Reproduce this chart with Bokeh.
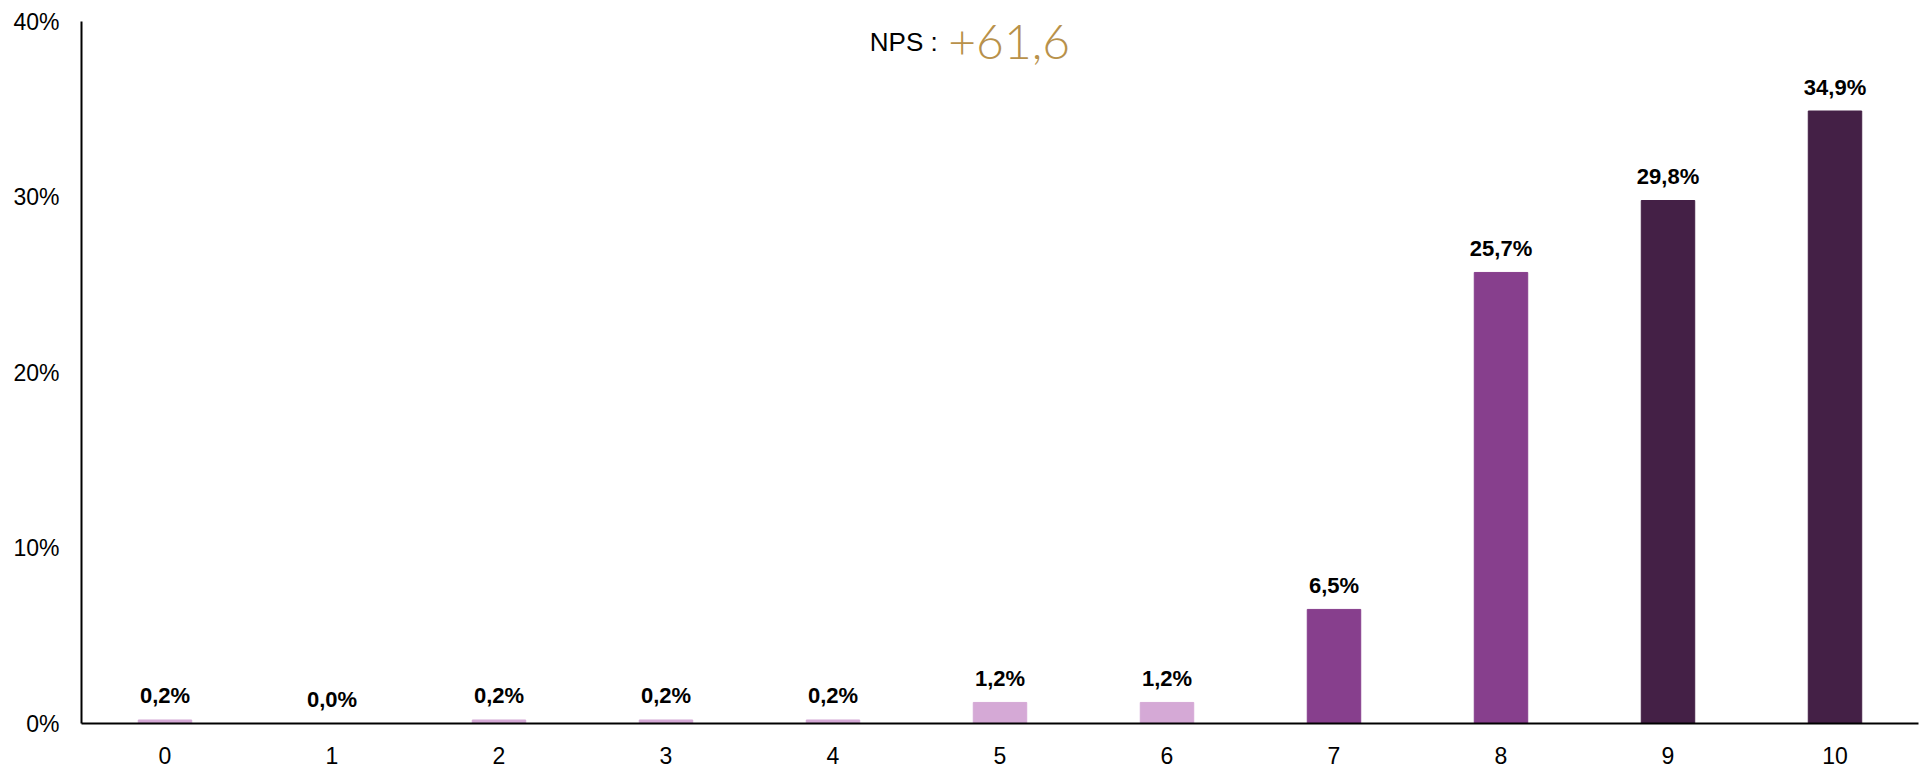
from bokeh.plotting import figure
from bokeh.models import ColumnDataSource, Range1d, FixedTicker, Label
from bokeh.core.properties import value
from bokeh.embed import file_html
from bokeh.resources import INLINE

scores = ["0", "1", "2", "3", "4", "5", "6", "7", "8", "9", "10"]
shares = [0.2, 0.0, 0.2, 0.2, 0.2, 1.2, 1.2, 6.5, 25.7, 29.8, 34.9]
colors = ["#D5A9D6"] * 7 + ["#873F8D"] * 2 + ["#442046"] * 2
y_ticks = [0, 10, 20, 30, 40]
nps_label = "NPS : "
nps_value = "+61,6"

FONT = "Liberation Sans"

xs = list(range(len(scores)))
src = ColumnDataSource(dict(
    x=xs, top=shares, color=colors,
    label=[f"{v:.1f}%".replace(".", ",") for v in shares],
))

p = figure(width=1920, height=767, output_backend="svg", toolbar_location=None,
           x_range=Range1d(-0.5, len(scores) - 0.5), y_range=Range1d(0, 40),
           min_border_left=81, min_border_right=2, min_border_top=21, min_border_bottom=44)
p.outline_line_color = None
p.grid.visible = False
p.background_fill_color = "white"

p.vbar(x="x", top="top", width=0.32, fill_color="color", line_color="color", source=src)
p.text(x="x", y="top", text="label", source=src, text_align="center",
       text_baseline="alphabetic", y_offset=-24,
       text_font=value(FONT), text_font_style="bold", text_font_size="22px",
       text_color="black")

p.xaxis.ticker = FixedTicker(ticks=xs)
p.xaxis.major_label_overrides = {i: s for i, s in enumerate(scores)}
p.yaxis.ticker = FixedTicker(ticks=y_ticks)
p.yaxis.major_label_overrides = {t: f"{t}%" for t in y_ticks}
for ax in (p.xaxis, p.yaxis):
    ax.major_tick_line_color = None
    ax.minor_tick_line_color = None
    ax.axis_line_color = "black"
    ax.axis_line_width = 2
    ax.major_label_text_font = FONT
    ax.major_label_text_font_size = "23px"
    ax.major_label_text_color = "black"
p.xaxis.major_label_standoff = 17
p.yaxis.major_label_standoff = 16

p.add_layout(Label(x=4.67, y=38.85, text=nps_label, text_align="right",
                   text_baseline="alphabetic", text_font=FONT, text_font_size="26px",
                   text_color="black"))
p.add_layout(Label(x=4.69, y=38.85, text=nps_value, text_align="left",
                   text_baseline="alphabetic", text_font="Lato Light", text_font_size="48px",
                   text_color="#B8914A"))

open("out.html", "w").write(file_html(p, INLINE))
